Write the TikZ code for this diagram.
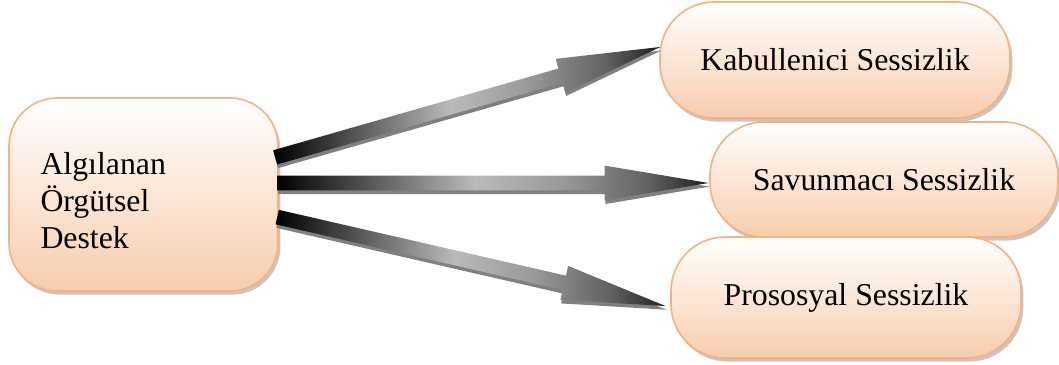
\documentclass[tikz,border=0pt]{standalone}
\usepackage{fontspec}
\setmainfont{Liberation Serif}
\usetikzlibrary{shapes.arrows,shadows,calc}

\definecolor{boxline}{RGB}{244,177,131}
\definecolor{boxfill}{RGB}{248,205,172}

% dark at the tail, light in the middle, dark again towards the tip
\pgfdeclarehorizontalshading{shaftshade}{100bp}{color(0bp)=(black); color(25bp)=(black); color(36bp)=(black!65); color(48bp)=(black!27); color(58bp)=(black!40); color(68bp)=(black!62); color(75bp)=(black!88); color(100bp)=(black!88)}

% fat shaded arrow from one point to another
\newcommand{\shaftarrow}[2]{%
  \path let \p1=(#1), \p2=(#2), \n1={atan2(\y2-\y1,\x2-\x1)}, \n2={veclen(\x2-\x1,\y2-\y1)} in
    node[shaft, minimum height=\n2, rotate=\n1, anchor=tail] at (\p1) {};}

\begin{document}
\begin{tikzpicture}[x=0.5pt,y=-0.5pt]
  \tikzstyle{pill}=[draw=boxline, line width=0.8pt, rounded corners=27pt, top color=white, bottom color=boxfill, drop shadow={shadow xshift=1.2pt, shadow yshift=-1.8pt, opacity=0.45}, minimum width=175pt, minimum height=58pt, font=\fontsize{15.9}{18.5}\selectfont]
  \tikzstyle{shaft}=[single arrow, shading=shaftshade, inner xsep=0pt, inner ysep=3.5pt, single arrow head extend=5pt, single arrow tip angle=19, drop shadow={shadow xshift=0.4pt, shadow yshift=-1.8pt, fill=black!50, opacity=1}]

  \useasboundingbox (0,0) rectangle (1059,364);

  \node[pill, rounded corners=24pt, minimum width=134.5pt, minimum height=96.5pt, inner xsep=15.5pt, text width=103pt, align=left] (des) at (143.5,194.5) {\rule{0pt}{17pt}Algılanan\\Örgütsel\\Destek};

  \node[pill] (kab) at (835,60) {Kabullenici Sessizlik};
  \node[pill, minimum width=174pt, minimum height=57.5pt] (sav) at (884,179.5) {Savunmacı Sessizlik};
  \node[pill, minimum height=60.5pt] (pro) at (846,297.5) {Prososyal Sessizlik};

  \shaftarrow{$(des.east)+(-4,-37)$}{$(kab.west)+(1,-13)$}
  \shaftarrow{$(des.east)+(-2,-11.5)$}{$(sav.west)+(-1,3.5)$}
  \shaftarrow{$(des.east)+(-2,22.5)$}{$(pro.west)+(-5,8.5)$}
\end{tikzpicture}
\end{document}
